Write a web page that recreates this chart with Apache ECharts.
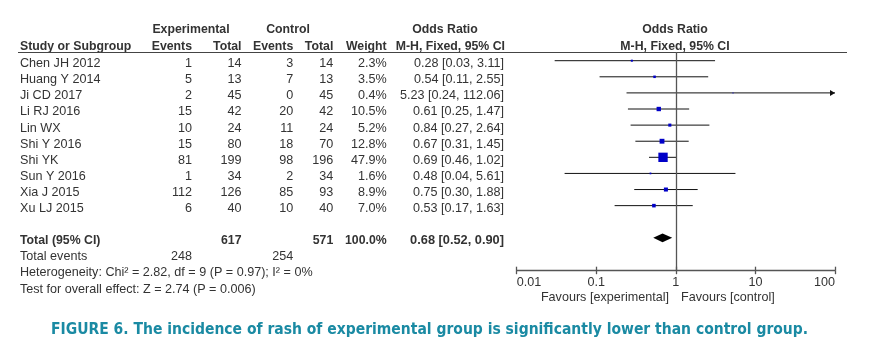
<!DOCTYPE html>
<html>
<head>
<meta charset="utf-8">
<script src="https://cdn.jsdelivr.net/npm/echarts@6/dist/echarts.min.js"></script>
<style>html,body{margin:0;padding:0;background:#fff}#c{width:870px;height:350px}</style>
</head>
<body>
<div id="c"></div>
<script>
// ---- data ----
const studies = ['Chen JH 2012','Huang Y 2014','Ji CD 2017','Li RJ 2016','Lin WX','Shi Y 2016','Shi YK','Sun Y 2016','Xia J 2015','Xu LJ 2015'];
const expEvents = [1,5,2,15,10,15,81,1,112,6];
const expTotal = [14,13,45,42,24,80,199,34,126,40];
const ctrlEvents = [3,7,0,20,11,18,98,2,85,10];
const ctrlTotal = [14,13,45,42,24,70,196,34,93,40];
const weights = [2.3,3.5,0.4,10.5,5.2,12.8,47.9,1.6,8.9,7.0];
const orVal = [0.28,0.54,5.23,0.61,0.84,0.67,0.69,0.48,0.75,0.53];
const orLo = [0.03,0.11,0.24,0.25,0.27,0.31,0.46,0.04,0.30,0.17];
const orHi = [3.11,2.55,112.06,1.47,2.64,1.45,1.02,5.61,1.88,1.63];
const totalOR = [0.68,0.52,0.90];
const totalN = [617,571];
const totalEvents = [248,254];
const tickLabels = ['0.01','0.1','1','10','100'];
const heteroText = 'Heterogeneity: Chi\u00B2 = 2.82, df = 9 (P = 0.97); I\u00B2 = 0%';
const overallText = 'Test for overall effect: Z = 2.74 (P = 0.006)';
const captionText = 'FIGURE 6. The incidence of rash of experimental group is significantly lower than control group.';

// ---- layout ----
const FONT = '"Liberation Sans", Arial, sans-serif';
const FS = 12.6, FSB = 12.3;
const TXT = '#333';
const GRID = {left: 516.7, right: 35, top: 52, bottom: 79.3};
const Y_MIN = -0.54, Y_MAX = 13.04;
const ROW0 = 63.7, ROWH = 16.1;
const rowTextY = i => ROW0 + ROWH * i;
const X_MIN = 0.01, X_MAX = 100;

const g = [];
function txt(x, y, s, align, bold, size) {
  g.push({
    type: 'text', x: x, y: y, silent: true,
    style: {text: s, fill: TXT, font: (bold ? 'bold ' : '') + (size || (bold ? FSB : FS)) + 'px ' + FONT, textAlign: align || 'left', textVerticalAlign: 'middle'}
  });
}
const f2 = v => v.toFixed(2);
// headers
const H1 = 30, H2 = 46.7;
txt(191, H1, 'Experimental', 'center', true);
txt(288, H1, 'Control', 'center', true);
txt(445, H1, 'Odds Ratio', 'center', true);
txt(675, H1, 'Odds Ratio', 'center', true);
txt(20, H2, 'Study or Subgroup', 'left', true);
txt(192, H2, 'Events', 'right', true);
txt(241.5, H2, 'Total', 'right', true);
txt(293.3, H2, 'Events', 'right', true);
txt(333.3, H2, 'Total', 'right', true);
txt(386.7, H2, 'Weight', 'right', true);
txt(505, H2, 'M-H, Fixed, 95% CI', 'right', true);
txt(675, H2, 'M-H, Fixed, 95% CI', 'center', true);
g.push({type: 'line', silent: true, shape: {x1: 18, y1: 52.5, x2: 847, y2: 52.5}, style: {stroke: '#444', lineWidth: 1.2}});
// rows
studies.forEach((s, i) => {
  const y = rowTextY(i);
  txt(20, y, s, 'left');
  txt(192, y, String(expEvents[i]), 'right');
  txt(241.5, y, String(expTotal[i]), 'right');
  txt(293.3, y, String(ctrlEvents[i]), 'right');
  txt(333.3, y, String(ctrlTotal[i]), 'right');
  txt(386.7, y, weights[i].toFixed(1) + '%', 'right');
  txt(504, y, f2(orVal[i]) + ' [' + f2(orLo[i]) + ', ' + f2(orHi[i]) + ']', 'right');
});
const yT = rowTextY(11);
txt(20, yT, 'Total (95% CI)', 'left', true);
txt(241.5, yT, String(totalN[0]), 'right', true);
txt(333.3, yT, String(totalN[1]), 'right', true);
txt(386.7, yT, '100.0%', 'right', true);
txt(504, yT, f2(totalOR[0]) + ' [' + f2(totalOR[1]) + ', ' + f2(totalOR[2]) + ']', 'right', true, 12.8);
txt(20, rowTextY(12), 'Total events', 'left');
txt(192, rowTextY(12), String(totalEvents[0]), 'right');
txt(293.3, rowTextY(12), String(totalEvents[1]), 'right');
txt(20, rowTextY(13), heteroText, 'left');
txt(20, rowTextY(14), overallText, 'left');
txt(669, 297.7, 'Favours [experimental]', 'right');
txt(681, 297.7, 'Favours [control]', 'left');
g.push({type: 'text', x: 51, y: 330, silent: true,
  style: {text: captionText, fill: '#1a8aa3', font: 'bold 15.5px "Liberation Sans Narrow", "DejaVu Sans Condensed", sans-serif', textAlign: 'left', textVerticalAlign: 'middle'}});

// ---- series data ----
const studyData = studies.map((s, i) => [orLo[i], orHi[i], i, orVal[i], weights[i]]);

const chart = echarts.init(document.getElementById('c'), null, {renderer: 'canvas'});
chart.setOption({
  animation: false,
  backgroundColor: '#fff',
  grid: GRID,
  xAxis: [{
    type: 'log', logBase: 10, min: X_MIN, max: X_MAX, position: 'bottom',
    axisLine: {show: true, onZero: false, lineStyle: {color: '#555', width: 1.3}},
    axisTick: {show: true, inside: false, length: 3.5, lineStyle: {color: '#555', width: 1.3}},
    axisLabel: {show: true, margin: 5, color: TXT, fontFamily: FONT, fontSize: FS,
      alignMinLabel: 'left', alignMaxLabel: 'right',
      formatter: v => tickLabels[Math.round(Math.log10(v) - Math.log10(X_MIN))]},
    splitLine: {show: false}
  }, {
    type: 'log', logBase: 10, min: X_MIN, max: X_MAX, position: 'bottom', offset: 0,
    axisLine: {show: false, onZero: false},
    axisTick: {show: true, inside: true, length: 4, lineStyle: {color: '#555', width: 1.3}},
    axisLabel: {show: false}, splitLine: {show: false}
  }],
  yAxis: {type: 'value', inverse: true, min: Y_MIN, max: Y_MAX, show: false, splitLine: {show: false}},
  graphic: g,
  series: [{
    type: 'custom',
    xAxisIndex: 0,
    data: studyData,
    encode: {x: [0, 1, 3], y: 2},
    clip: false,
    renderItem: (params, api) => {
      const lo = api.value(0), hi = api.value(1), row = api.value(2), v = api.value(3), w = api.value(4);
      const a = api.coord([Math.max(lo, X_MIN), row]);
      const b = api.coord([Math.min(hi, X_MAX), row]);
      const c = api.coord([v, row]);
      const children = [{type: 'line', shape: {x1: a[0], y1: a[1], x2: b[0], y2: b[1]}, style: {stroke: '#111', lineWidth: 1}}];
      if (hi > X_MAX) {
        children.push({type: 'polygon', shape: {points: [[b[0] - 5, b[1] - 3], [b[0], b[1]], [b[0] - 5, b[1] + 3]]}, style: {fill: '#111'}});
      }
      const s = Math.max(1, Math.sqrt(w) * 1.35);
      children.push({type: 'rect', shape: {x: c[0] - s / 2, y: c[1] - s / 2, width: s, height: s}, style: {fill: '#0000c8'}});
      return {type: 'group', children: children};
    },
    markLine: {
      silent: true, symbol: 'none', label: {show: false},
      lineStyle: {color: '#555', width: 1.3, type: 'solid'},
      data: [{xAxis: 1}]
    }
  }, {
    type: 'custom',
    xAxisIndex: 0,
    data: [[totalOR[1], totalOR[2], 11, totalOR[0]]],
    encode: {x: [0, 1, 3], y: 2},
    renderItem: (params, api) => {
      const lo = api.coord([api.value(0), api.value(2)]);
      const hi = api.coord([api.value(1), api.value(2)]);
      const c = api.coord([api.value(3), api.value(2)]);
      const h = 4.3;
      return {type: 'polygon', shape: {points: [[lo[0], lo[1]], [c[0], c[1] - h], [hi[0], hi[1]], [c[0], c[1] + h]]}, style: {fill: '#000'}};
    }
  }]
});
</script>
</body>
</html>
